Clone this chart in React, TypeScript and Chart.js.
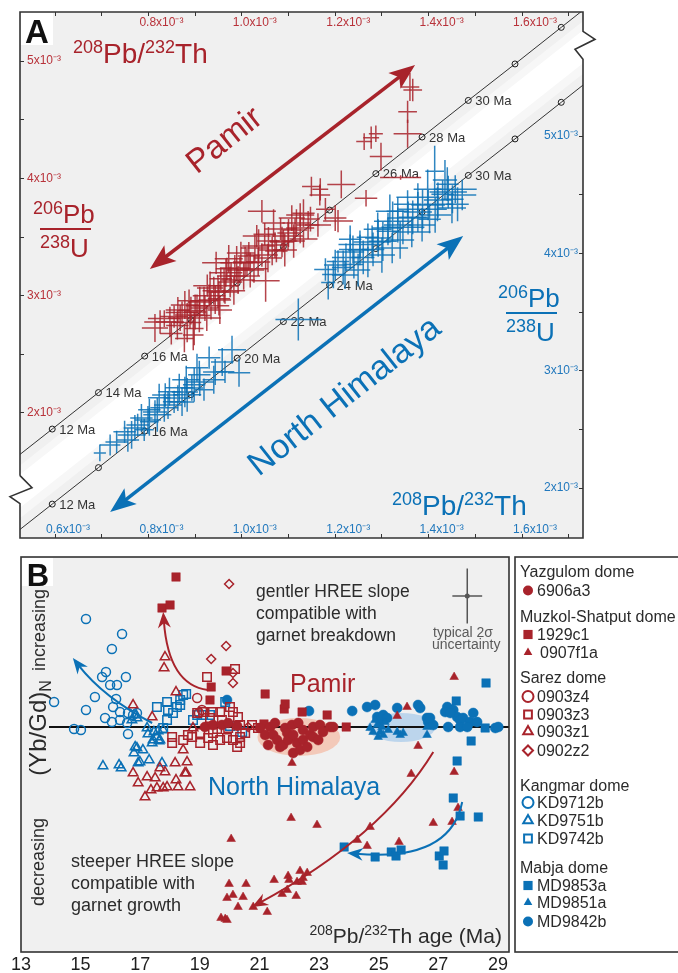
import React, { useEffect, useRef } from 'react';
import { Chart, registerables } from 'chart.js';

Chart.register(...registerables);

const RED = '#a8232b';
const BLUE = '#0b71b6';
const RED_TICK = '#b8323a';
const BLUE_TICK = '#2178bd';
const INK = '#2b2b2b';
const FONT = '"Liberation Sans", Arial, Helvetica, sans-serif';
const EXP = 'x10\u207B\u00B3';

Chart.defaults.font.family = FONT;

// ---------------- Panel A : 206Pb/238U vs 208Pb/232Th (values in 10^-3) ----------------
const concordiaAges = [10, 12, 14, 16, 18, 20, 22, 24, 26, 28, 30, 32, 34, 36];
const concordiaTh = [0.495, 0.594, 0.693, 0.792, 0.891, 0.990, 1.089, 1.188, 1.287, 1.386, 1.485, 1.585, 1.684, 1.783];
const concordiaU = [1.553, 1.863, 2.174, 2.485, 2.796, 3.107, 3.419, 3.730, 4.041, 4.353, 4.665, 4.976, 5.288, 5.600];
const pamirAgeLabels = [12, 14, 16, 26, 28, 30];
const himalayaAgeLabels = [12, 16, 20, 22, 24, 30];
const thTicks = [0.6, 0.7, 0.8, 0.9, 1.0, 1.1, 1.2, 1.3, 1.4, 1.5, 1.6, 1.7];
const uTicks = [2, 2.5, 3, 3.5, 4, 4.5, 5];
const thRange = [0.525, 1.7306];
const pamirURange = [0.934, 5.419];
const himalayaURange = [1.574, 6.058];

// [208Pb/232Th, 206Pb/238U, ±Th, ±U]
const pamirCrosses = [
  [1.360, 4.780, 0.020, 0.119], [1.366, 4.754, 0.020, 0.095], [1.355, 4.568, 0.020, 0.095], [1.355, 4.381, 0.030, 0.119],
  [1.287, 4.381, 0.015, 0.071], [1.277, 4.347, 0.017, 0.095], [1.262, 4.314, 0.017, 0.071], [1.298, 4.186, 0.024, 0.119],
  [1.213, 3.949, 0.030, 0.119], [1.149, 3.932, 0.020, 0.083], [1.168, 3.907, 0.017, 0.095], [1.340, 4.008, 0.044, 0.020],
  [1.266, 3.831, 0.024, 0.071], [1.206, 3.636, 0.032, 0.095], [1.179, 3.737, 0.020, 0.095], [1.043, 3.720, 0.030, 0.095],
  [1.132, 3.703, 0.024, 0.119], [1.147, 3.653, 0.020, 0.106], [1.117, 3.619, 0.030, 0.119], [1.100, 3.534, 0.024, 0.119],
  [1.083, 3.568, 0.035, 0.095], [1.111, 3.466, 0.024, 0.143], [1.089, 3.466, 0.030, 0.095], [1.057, 3.466, 0.024, 0.119],
  [1.132, 3.483, 0.030, 0.071], [1.074, 3.381, 0.024, 0.095], [1.036, 3.424, 0.035, 0.143], [1.015, 3.339, 0.024, 0.119],
  [0.998, 3.364, 0.030, 0.095], [1.011, 3.280, 0.030, 0.119], [0.989, 3.280, 0.035, 0.143], [1.026, 3.229, 0.030, 0.119],
  [1.051, 3.127, 0.030, 0.178], [0.968, 3.229, 0.024, 0.095], [0.977, 3.169, 0.030, 0.119], [0.955, 3.144, 0.024, 0.095],
  [1.004, 3.169, 0.035, 0.119], [0.962, 3.085, 0.030, 0.143], [0.940, 3.042, 0.024, 0.119], [0.930, 3.000, 0.035, 0.095],
  [0.951, 2.975, 0.024, 0.143], [0.919, 2.958, 0.030, 0.119], [0.904, 2.915, 0.024, 0.095], [0.934, 2.915, 0.039, 0.119],
  [0.891, 2.873, 0.030, 0.119], [0.872, 2.856, 0.035, 0.095], [0.909, 2.831, 0.024, 0.143], [0.855, 2.822, 0.030, 0.095],
  [0.834, 2.805, 0.035, 0.071], [0.883, 2.771, 0.030, 0.167], [0.862, 2.746, 0.024, 0.119], [0.898, 2.720, 0.020, 0.143],
  [0.849, 2.678, 0.024, 0.095], [0.877, 2.636, 0.020, 0.119], [0.972, 3.314, 0.030, 0.119], [1.049, 3.525, 0.024, 0.095],
  [1.068, 3.619, 0.024, 0.119], [0.926, 3.085, 0.030, 0.095], [0.983, 3.042, 0.024, 0.119], [1.032, 3.508, 0.030, 0.095],
  [0.966, 3.195, 0.035, 0.119], [0.887, 2.958, 0.024, 0.095], [0.945, 3.280, 0.030, 0.095],
  [0.846, 2.776, 0.030, 0.130], [0.868, 2.810, 0.026, 0.110], [0.889, 2.835, 0.032, 0.120], [0.900, 2.861, 0.024, 0.150],
  [0.921, 2.895, 0.030, 0.110], [0.910, 2.946, 0.026, 0.130], [0.943, 2.963, 0.034, 0.120], [0.949, 3.032, 0.024, 0.140],
  [0.964, 3.032, 0.030, 0.100], [0.975, 3.117, 0.026, 0.130], [0.992, 3.134, 0.036, 0.120], [0.996, 3.219, 0.028, 0.110],
  [1.018, 3.219, 0.030, 0.150], [1.035, 3.287, 0.026, 0.120], [1.043, 3.347, 0.034, 0.100], [1.065, 3.390, 0.028, 0.130],
  [1.071, 3.432, 0.030, 0.110], [1.092, 3.390, 0.026, 0.140], [1.099, 3.509, 0.032, 0.120], [1.114, 3.560, 0.026, 0.100],
  [1.125, 3.577, 0.030, 0.130], [1.107, 3.662, 0.028, 0.110], [1.142, 3.603, 0.024, 0.120], [1.125, 3.688, 0.030, 0.100],
  [1.056, 3.321, 0.030, 0.120], [1.007, 3.287, 0.026, 0.130], [0.985, 3.236, 0.032, 0.110], [0.932, 3.066, 0.028, 0.140],
  [0.878, 2.921, 0.030, 0.120], [0.863, 2.878, 0.026, 0.110], [0.825, 2.776, 0.034, 0.100], [0.814, 2.725, 0.028, 0.120],
  [0.896, 2.665, 0.022, 0.130], [0.925, 2.810, 0.030, 0.110], [0.953, 2.878, 0.026, 0.120], [1.028, 3.407, 0.030, 0.110],
  [1.086, 3.458, 0.026, 0.130], [1.163, 3.603, 0.028, 0.100], [1.200, 3.662, 0.024, 0.110], [1.167, 3.859, 0.022, 0.090],
];

const himalayaCrosses = [
  [1.413, 4.701, 0.020, 0.216], [1.440, 4.590, 0.024, 0.144], [1.457, 4.547, 0.046, 0.119], [1.430, 4.504, 0.024, 0.119],
  [1.398, 4.547, 0.030, 0.168], [1.377, 4.479, 0.046, 0.119], [1.419, 4.419, 0.030, 0.144], [1.451, 4.462, 0.024, 0.119],
  [1.355, 4.419, 0.030, 0.119], [1.387, 4.376, 0.052, 0.168], [1.334, 4.359, 0.024, 0.119], [1.366, 4.308, 0.030, 0.144],
  [1.402, 4.291, 0.024, 0.119], [1.323, 4.274, 0.040, 0.168], [1.345, 4.222, 0.046, 0.144], [1.313, 4.188, 0.024, 0.119],
  [1.291, 4.205, 0.030, 0.144], [1.270, 4.137, 0.024, 0.119], [1.302, 4.103, 0.030, 0.168], [1.253, 4.077, 0.046, 0.119],
  [1.281, 4.034, 0.024, 0.144], [1.238, 4.034, 0.030, 0.119], [1.260, 3.966, 0.024, 0.144], [1.223, 3.966, 0.030, 0.119],
  [1.206, 3.932, 0.024, 0.095], [1.240, 3.906, 0.020, 0.119], [1.217, 3.880, 0.024, 0.144], [1.179, 3.863, 0.024, 0.095],
  [1.185, 3.752, 0.015, 0.144], [1.121, 3.436, 0.049, 0.179], [0.979, 3.179, 0.030, 0.119], [0.930, 3.111, 0.024, 0.095],
  [0.994, 2.983, 0.024, 0.119], [0.964, 2.991, 0.020, 0.095], [0.909, 2.966, 0.024, 0.119], [0.881, 2.923, 0.030, 0.119],
  [0.898, 2.880, 0.024, 0.144], [0.866, 2.855, 0.030, 0.119], [0.919, 2.838, 0.020, 0.095], [0.845, 2.821, 0.024, 0.119],
  [0.883, 2.795, 0.030, 0.144], [0.823, 2.769, 0.024, 0.119], [0.855, 2.735, 0.024, 0.095], [0.834, 2.684, 0.030, 0.119],
  [0.802, 2.667, 0.024, 0.095], [0.819, 2.624, 0.030, 0.144], [0.785, 2.598, 0.024, 0.119], [0.802, 2.564, 0.020, 0.119],
  [0.777, 2.538, 0.024, 0.095], [0.791, 2.496, 0.020, 0.095], [0.749, 2.479, 0.024, 0.095], [0.732, 2.393, 0.024, 0.095],
  [0.696, 2.299, 0.013, 0.071], [0.764, 2.453, 0.030, 0.119], [0.940, 2.923, 0.024, 0.119], [0.904, 3.026, 0.024, 0.119],
  [1.462, 4.419, 0.024, 0.144], [1.232, 4.120, 0.024, 0.119], [1.196, 3.821, 0.024, 0.119], [1.317, 4.359, 0.030, 0.144],
  [1.232, 4.012, 0.030, 0.150], [1.253, 4.029, 0.026, 0.130], [1.279, 4.097, 0.040, 0.140], [1.292, 4.131, 0.028, 0.160],
  [1.313, 4.217, 0.034, 0.130], [1.334, 4.242, 0.030, 0.150], [1.356, 4.302, 0.044, 0.140], [1.377, 4.353, 0.030, 0.170],
  [1.399, 4.413, 0.036, 0.130], [1.420, 4.455, 0.030, 0.150], [1.442, 4.523, 0.040, 0.140], [1.450, 4.387, 0.030, 0.130],
  [1.414, 4.327, 0.034, 0.150], [1.386, 4.242, 0.028, 0.140], [1.364, 4.182, 0.040, 0.130], [1.339, 4.114, 0.030, 0.160],
  [1.322, 4.046, 0.034, 0.130], [1.300, 3.986, 0.028, 0.150], [1.270, 3.927, 0.030, 0.130], [1.249, 3.858, 0.026, 0.140],
  [1.221, 3.816, 0.028, 0.120], [1.200, 3.901, 0.024, 0.130], [1.435, 4.626, 0.026, 0.170], [1.472, 4.498, 0.030, 0.130],
  [0.771, 2.512, 0.024, 0.110], [0.799, 2.580, 0.028, 0.120], [0.814, 2.648, 0.026, 0.100], [0.842, 2.708, 0.030, 0.120],
  [0.863, 2.767, 0.026, 0.110], [0.878, 2.818, 0.028, 0.130], [0.893, 2.853, 0.024, 0.110], [0.910, 2.904, 0.030, 0.120],
  [0.943, 2.989, 0.026, 0.110], [0.958, 3.074, 0.024, 0.120], [0.836, 2.793, 0.028, 0.100], [0.872, 2.733, 0.026, 0.120],
  [0.756, 2.409, 0.024, 0.100], [0.718, 2.367, 0.022, 0.090],
];

// annotation anchors (data units)
const pamirArrow = [[0.803, 3.228], [1.371, 4.967]];
const himalayaArrow = [[0.718, 1.795], [1.474, 4.148]];
const pamirLabelAt = [0.964, 4.319];
const himalayaLabelAt = [1.221, 2.776];

// ---------------- Panel B : (Yb/Gd)N change vs 208Pb/232Th age ----------------
const ageTicks = [13, 15, 17, 19, 21, 23, 25, 27, 29];
const ageRange = [13, 29.37];
const ybgdRange = [-2.25, 1.70];
const zeroLine = [[13.94, 0], [29.37, 0]];

const yazgulom6906a3 = [
  [19.17, 0.00], [19.44, 0.02], [19.74, 0.02], [19.95, 0.04], [20.25, 0.01],
  [21.02, -0.01], [21.19, -0.08], [21.29, -0.18], [21.36, 0.00], [21.46, -0.08], [21.52, 0.04], [21.59, -0.13],
  [21.69, -0.20], [21.79, -0.18], [21.86, -0.01], [21.93, -0.06], [21.96, -0.13], [22.09, 0.02], [22.13, -0.08],
  [22.13, -0.26], [22.26, -0.16], [22.30, 0.04], [22.36, -0.23], [22.46, -0.03], [22.46, -0.13], [22.60, -0.20],
  [22.70, -0.08], [22.80, 0.00], [22.80, -0.10], [22.97, -0.13], [23.03, 0.02], [23.13, -0.05], [23.37, 0.00], [23.47, 0.00],
];
const muzkol1929c1 = [
  [17.73, 1.19], [18.00, 1.22], [18.20, 1.50], [19.34, 0.27], [19.38, 0.40], [19.88, 0.56], [21.15, 0.03],
  [21.19, 0.33], [21.83, 0.18], [21.86, 0.23], [22.43, 0.15], [23.27, 0.12], [23.91, 0.00],
];
const muzkol0907f1a = [
  [27.53, 0.50], [25.95, 0.20], [25.62, 0.11], [26.32, -0.19], [22.09, -0.36], [26.09, -0.47], [27.53, -0.45],
  [22.06, -0.91], [22.93, -0.98], [24.71, -1.00], [24.28, -1.13], [24.61, -1.19], [25.68, -1.15], [26.83, -0.96],
  [27.46, -0.95], [27.66, -0.81], [21.49, -1.53], [21.96, -1.49], [21.99, -1.53], [22.36, -1.44], [22.60, -1.46],
  [22.26, -1.55], [22.43, -1.55], [22.46, -1.51], [21.93, -1.63], [21.76, -1.67], [22.23, -1.69], [21.26, -1.85],
  [20.05, -1.12], [19.98, -1.57], [20.55, -1.57], [20.11, -1.68], [20.45, -1.70], [19.91, -1.71], [20.28, -1.80],
  [20.79, -1.80], [19.71, -1.91], [19.91, -1.93], [19.85, -1.92],
];
const sarez0903z4 = [[18.91, 0.29], [19.07, 0.17], [18.97, 0.14]];
const sarez0903z3 = [
  [19.24, 0.50], [20.18, 0.58], [18.91, 0.14], [19.11, 0.15], [19.68, 0.15], [19.34, 0.09], [19.74, 0.07],
  [20.11, 0.15], [20.28, 0.10], [19.01, -0.06], [18.07, -0.10], [18.07, -0.16], [18.44, -0.13], [18.74, -0.10],
  [19.01, -0.16], [19.28, -0.11], [19.44, -0.18], [19.68, -0.13], [19.91, -0.11], [20.11, -0.13], [20.35, -0.16],
  [20.25, -0.20], [20.35, -0.10], [19.95, -0.01], [20.35, 0.02], [19.44, -0.06], [20.01, 0.20], [20.75, 0.02],
  [20.95, -0.01], [19.44, 0.15], [18.60, -0.08], [19.58, -0.02], [20.52, -0.06],
];
const sarez0903z1 = [
  [17.83, 0.70], [17.80, 0.59], [18.20, 0.35], [16.76, 0.22], [17.40, 0.10], [18.77, -0.01], [16.76, -0.46],
  [16.93, -0.56], [17.23, -0.50], [17.50, -0.51], [17.66, -0.41], [17.83, -0.45], [18.17, -0.36], [17.90, -0.60],
  [18.20, -0.53], [18.27, -0.60], [18.50, -0.46], [18.57, -0.35], [18.67, -0.60], [17.16, -0.70], [17.56, -0.61],
  [17.77, -0.61], [17.36, -0.63], [18.44, -0.23], [18.54, -0.46],
];
const sarez0902z2 = [[19.98, 1.43], [19.88, 0.81], [19.38, 0.68], [20.11, 0.54], [20.11, 0.44], [20.62, 0.00]];
const kangmarKD9712b = [
  [15.18, 1.08], [16.39, 0.93], [16.05, 0.78], [15.85, 0.55], [15.72, 0.50], [16.52, 0.50], [15.99, 0.42],
  [16.22, 0.42], [15.48, 0.30], [16.19, 0.28], [16.09, 0.20], [14.11, 0.25], [15.18, 0.17], [16.32, 0.15],
  [16.59, 0.14], [16.76, 0.12], [16.89, 0.14], [15.82, 0.09], [16.05, 0.05], [16.56, 0.04], [14.78, -0.02],
  [15.01, -0.03], [16.59, -0.07], [16.32, 0.07],
];
const kangmarKD9751b = [
  [16.86, 0.12], [17.23, -0.01], [17.46, -0.05], [17.56, -0.10], [17.63, -0.14], [17.40, -0.16], [16.83, -0.20],
  [17.77, -0.03], [17.26, -0.07], [17.60, -0.04], [17.43, -0.13], [17.66, -0.13], [16.89, -0.21], [16.79, -0.26],
  [17.09, -0.23], [17.30, -0.33], [16.93, -0.36], [15.75, -0.39], [16.29, -0.38], [16.36, -0.41], [16.99, -0.35],
  [17.73, -0.36], [16.72, 0.07], [16.89, 0.09],
];
const kangmarKD9742b = [
  [17.56, 0.20], [17.90, 0.25], [17.93, 0.17], [18.23, 0.20], [18.34, 0.27], [18.44, 0.32], [18.54, 0.33],
  [18.34, 0.22], [17.90, 0.07], [17.77, -0.01], [18.77, 0.07], [18.91, 0.12], [19.11, 0.12], [19.34, 0.12],
  [20.01, 0.01], [20.42, -0.05], [19.85, 0.25], [18.10, 0.14],
];
const mabjaMD9853a = [
  [28.60, 0.44], [27.60, 0.26], [28.57, -0.01], [28.10, -0.14], [27.63, -0.34], [27.50, -0.71], [27.73, -0.89],
  [28.34, -0.90], [23.84, -1.20], [24.88, -1.30], [25.42, -1.25], [25.58, -1.29], [25.75, -1.23], [27.03, -1.29],
  [27.19, -1.24], [27.16, -1.38],
];
const mabjaMD9851a = [
  [24.71, -0.01], [24.81, -0.05], [24.95, 0.02], [24.98, -0.10], [25.05, -0.05], [25.11, 0.00], [25.15, -0.08],
  [25.32, -0.03], [25.62, -0.05], [25.72, -0.08], [25.82, -0.06], [26.62, -0.08], [26.62, 0.00], [24.88, 0.07], [25.21, 0.05],
];
const mabjaMD9842b = [
  [19.91, 0.27], [22.66, 0.16], [24.11, 0.16], [24.61, 0.20], [24.88, 0.22], [25.62, 0.19], [26.32, 0.22],
  [26.39, 0.19], [24.95, 0.10], [25.05, 0.07], [25.15, 0.12], [25.28, 0.09], [26.62, 0.09], [26.66, 0.05],
  [27.30, 0.20], [27.50, 0.17], [27.23, 0.15], [27.63, 0.10], [27.73, 0.07], [27.83, 0.09], [28.17, 0.14],
  [28.07, 0.05], [28.30, 0.05], [27.33, 0.00], [27.73, 0.00], [27.97, 0.00], [28.91, -0.01], [29.01, 0.00],
  [26.83, 0.02], [27.40, 0.14], [26.72, 0.09],
];

// annotations in data units [age, value]
const pamirEllipse = { c: [22.32, -0.10], r: [1.39, 0.19] };
const himalayaEllipse = { c: [25.75, -0.005], r: [1.14, 0.145] };
const arrowKangmar = [[17.40, 0.04], [15.77, 0.295], [14.74, 0.69]];
const arrowMuzkolUp = [[19.27, 0.37], [17.95, 0.42], [17.77, 1.15]];
const arrowMuzkolDown = [[26.83, -0.25], [25.10, -1.095], [20.75, -1.80]];
const arrowMabja = [[27.80, -0.75], [27.40, -1.35], [23.94, -1.26]];
const uncertainty = { c: [27.97, 1.31], e: [0.5, 0.275] };

const series = [
  { name: '6906a3', dome: 'Yazgulom dome', data: yazgulom6906a3, style: 'circle', color: RED, filled: true, r: 5 },
  { name: '1929c1', dome: 'Muzkol-Shatput dome', data: muzkol1929c1, style: 'rect', color: RED, filled: true, r: 6 },
  { name: '0907f1a', dome: 'Muzkol-Shatput dome', data: muzkol0907f1a, style: 'triangle', color: RED, filled: true, r: 5 },
  { name: '0903z4', dome: 'Sarez dome', data: sarez0903z4, style: 'circle', color: RED, filled: false, r: 4.5 },
  { name: '0903z3', dome: 'Sarez dome', data: sarez0903z3, style: 'rect', color: RED, filled: false, r: 6 },
  { name: '0903z1', dome: 'Sarez dome', data: sarez0903z1, style: 'triangle', color: RED, filled: false, r: 5.5 },
  { name: '0902z2', dome: 'Sarez dome', data: sarez0902z2, style: 'rectRot', color: RED, filled: false, r: 4.5 },
  { name: 'KD9712b', dome: 'Kangmar dome', data: kangmarKD9712b, style: 'circle', color: BLUE, filled: false, r: 4.5 },
  { name: 'KD9751b', dome: 'Kangmar dome', data: kangmarKD9751b, style: 'triangle', color: BLUE, filled: false, r: 5.5 },
  { name: 'KD9742b', dome: 'Kangmar dome', data: kangmarKD9742b, style: 'rect', color: BLUE, filled: false, r: 6 },
  { name: 'MD9853a', dome: 'Mabja dome', data: mabjaMD9853a, style: 'rect', color: BLUE, filled: true, r: 6 },
  { name: 'MD9851a', dome: 'Mabja dome', data: mabjaMD9851a, style: 'triangle', color: BLUE, filled: true, r: 5 },
  { name: 'MD9842b', dome: 'Mabja dome', data: mabjaMD9842b, style: 'circle', color: BLUE, filled: true, r: 5 },
];
const legendHeaderY = [32, 77, 138, 246, 328];
const legendItemY = [51, 95, 113, 157, 175, 192, 211, 263, 281, 299, 346, 363, 382];

// ---------------- helpers ----------------
function richText(ctx: any, parts: any[], x: number, y: number, size: number, small: number, color: string, align = 'left') {
  ctx.save();
  ctx.fillStyle = color;
  ctx.textBaseline = 'alphabetic';
  ctx.textAlign = 'left';
  const widths = parts.map(([t, k]: any) => {
    ctx.font = `${k === 'n' ? size : small}px ${FONT}`;
    return ctx.measureText(t).width;
  });
  const total = widths.reduce((s: number, w: number) => s + w, 0);
  let cx = align === 'left' ? x : align === 'right' ? x - total : x - total / 2;
  parts.forEach(([t, k]: any, i: number) => {
    ctx.font = `${k === 'n' ? size : small}px ${FONT}`;
    const dy = k === 'sup' ? -size * 0.36 : k === 'sub' ? size * 0.22 : 0;
    ctx.fillText(t, cx, y + dy);
    cx += widths[i];
  });
  ctx.restore();
}

function arrowHead(ctx: any, tx: number, ty: number, ux: number, uy: number, len: number, half: number, notch: number, color: string) {
  const px = -uy, py = ux;
  ctx.beginPath();
  ctx.moveTo(tx, ty);
  ctx.lineTo(tx - ux * len + px * half, ty - uy * len + py * half);
  ctx.lineTo(tx - ux * (len - notch), ty - uy * (len - notch));
  ctx.lineTo(tx - ux * len - px * half, ty - uy * len - py * half);
  ctx.closePath();
  ctx.fillStyle = color;
  ctx.fill();
}

function drawMarker(ctx: any, style: string, x: number, y: number, r: number, color: string, filled: boolean, lw: number) {
  ctx.beginPath();
  if (style === 'circle') ctx.arc(x, y, r, 0, Math.PI * 2);
  else if (style === 'rect') { const s = r * Math.SQRT1_2; ctx.rect(x - s, y - s, 2 * s, 2 * s); }
  else if (style === 'rectRot') { ctx.moveTo(x - r, y); ctx.lineTo(x, y - r); ctx.lineTo(x + r, y); ctx.lineTo(x, y + r); ctx.closePath(); }
  else { ctx.moveTo(x, y - r); ctx.lineTo(x + 0.866 * r, y + 0.5 * r); ctx.lineTo(x - 0.866 * r, y + 0.5 * r); ctx.closePath(); }
  if (filled) { ctx.fillStyle = color; ctx.fill(); } else { ctx.strokeStyle = color; ctx.lineWidth = lw; ctx.stroke(); }
}

const thLabel = (v: number, skipFirst: boolean) => {
  const t = Math.round(v * 10);
  if (t % 2 !== 0) return '';
  if (skipFirst && t === 6) return '';
  return (t / 10).toFixed(1) + EXP;
};
const uLabel = (v: number) => (Number.isInteger(v) ? `${v}${EXP}` : '');

// ---------------- Panel A plugin ----------------
const panelAPlugin = {
  id: 'panelA',
  beforeDraw(chart: any) {
    const { ctx, chartArea: ca } = chart;
    const xs = chart.scales.x, yl = chart.scales.yL, yr = chart.scales.yR;
    ctx.save();
    ctx.fillStyle = '#ffffff';
    ctx.fillRect(0, 0, chart.width, chart.height);
    ctx.fillStyle = '#f0f0f0';
    ctx.fillRect(ca.left, ca.top, ca.right - ca.left, ca.bottom - ca.top);
    ctx.beginPath();
    ctx.rect(ca.left, ca.top, ca.right - ca.left, ca.bottom - ca.top);
    ctx.clip();
    const n = concordiaTh.length - 1;
    const xA = xs.getPixelForValue(concordiaTh[0]), xB = xs.getPixelForValue(concordiaTh[n]);
    const rA = yl.getPixelForValue(concordiaU[0]), rB = yl.getPixelForValue(concordiaU[n]);
    const bA = yr.getPixelForValue(concordiaU[0]), bB = yr.getPixelForValue(concordiaU[n]);
    const strip = (f1: number, f2: number, col: string) => {
      ctx.fillStyle = col;
      ctx.beginPath();
      ctx.moveTo(xA, rA + f1 * (bA - rA));
      ctx.lineTo(xB, rB + f1 * (bB - rB));
      ctx.lineTo(xB, rB + f2 * (bB - rB));
      ctx.lineTo(xA, rA + f2 * (bA - rA));
      ctx.closePath();
      ctx.fill();
    };
    strip(0.15, 0.85, '#f7f7f7');
    strip(0.27, 0.71, '#ffffff');
    ctx.restore();
  },
  beforeDatasetsDraw(chart: any) {
    const { ctx } = chart;
    const xs = chart.scales.x, yl = chart.scales.yL, yr = chart.scales.yR;
    ctx.save();
    ctx.font = `13px ${FONT}`;
    ctx.fillStyle = '#333';
    ctx.textBaseline = 'middle';
    ctx.textAlign = 'left';
    const put = (ages: number[], ys: any) => ages.forEach((a) => {
      const i = concordiaAges.indexOf(a);
      ctx.fillText(`${a} Ma`, xs.getPixelForValue(concordiaTh[i]) + 7, ys.getPixelForValue(concordiaU[i]) + 1);
    });
    put(pamirAgeLabels, yl);
    put(himalayaAgeLabels, yr);
    ctx.restore();
  },
  afterDatasetsDraw(chart: any) {
    const { ctx, chartArea: ca } = chart;
    const xs = chart.scales.x, yl = chart.scales.yL, yr = chart.scales.yR;
    // error crosses
    ctx.save();
    ctx.beginPath();
    ctx.rect(ca.left, ca.top, ca.right - ca.left, ca.bottom - ca.top);
    ctx.clip();
    chart.data.datasets.forEach((ds: any) => {
      if (!ds.crosses) return;
      const ys = chart.scales[ds.yAxisID];
      ctx.strokeStyle = ds.crossColor;
      ctx.lineWidth = 1.5;
      ds.crosses.forEach(([x, y, ex, ey]: number[]) => {
        const px = xs.getPixelForValue(x), py = ys.getPixelForValue(y);
        ctx.beginPath();
        ctx.moveTo(xs.getPixelForValue(x - ex), py);
        ctx.lineTo(xs.getPixelForValue(x + ex), py);
        ctx.moveTo(px, ys.getPixelForValue(y - ey));
        ctx.lineTo(px, ys.getPixelForValue(y + ey));
        ctx.stroke();
      });
    });
    ctx.restore();

    // double arrows
    const dbl = (pts: number[][], ys: any, color: string) => {
      const P = { x: xs.getPixelForValue(pts[0][0]), y: ys.getPixelForValue(pts[0][1]) };
      const Q = { x: xs.getPixelForValue(pts[1][0]), y: ys.getPixelForValue(pts[1][1]) };
      const L = Math.hypot(Q.x - P.x, Q.y - P.y);
      const ux = (Q.x - P.x) / L, uy = (Q.y - P.y) / L;
      ctx.save();
      ctx.strokeStyle = color;
      ctx.lineWidth = 3.5;
      ctx.beginPath();
      ctx.moveTo(P.x + ux * 18, P.y + uy * 18);
      ctx.lineTo(Q.x - ux * 18, Q.y - uy * 18);
      ctx.stroke();
      arrowHead(ctx, Q.x, Q.y, ux, uy, 26, 10, 6, color);
      arrowHead(ctx, P.x, P.y, -ux, -uy, 26, 10, 6, color);
      ctx.restore();
    };
    dbl(pamirArrow, yl, RED);
    dbl(himalayaArrow, yr, BLUE);

    // rotated labels
    const i0 = 1, i1 = concordiaTh.length - 2;
    const ang = Math.atan2(
      yl.getPixelForValue(concordiaU[i1]) - yl.getPixelForValue(concordiaU[i0]),
      xs.getPixelForValue(concordiaTh[i1]) - xs.getPixelForValue(concordiaTh[i0]),
    );
    const rot = (text: string, at: number[], ys: any, size: number, color: string) => {
      ctx.save();
      ctx.translate(xs.getPixelForValue(at[0]), ys.getPixelForValue(at[1]));
      ctx.rotate(ang);
      ctx.font = `${size}px ${FONT}`;
      ctx.fillStyle = color;
      ctx.textAlign = 'center';
      ctx.textBaseline = 'middle';
      ctx.fillText(text, 0, 0);
      ctx.restore();
    };
    rot('Pamir', pamirLabelAt, yl, 33, RED);
    rot('North Himalaya', himalayaLabelAt, yr, 34, BLUE);

    // axis titles
    richText(ctx, [['208', 'sup'], ['Pb/', 'n'], ['232', 'sup'], ['Th', 'n']], 73, 63, 28, 18, RED);
    richText(ctx, [['206', 'sup'], ['Pb', 'n']], 33, 223, 26, 18, RED);
    richText(ctx, [['238', 'sup'], ['U', 'n']], 40, 257, 26, 18, RED);
    richText(ctx, [['206', 'sup'], ['Pb', 'n']], 498, 307, 26, 18, BLUE);
    richText(ctx, [['238', 'sup'], ['U', 'n']], 506, 341, 26, 18, BLUE);
    richText(ctx, [['208', 'sup'], ['Pb/', 'n'], ['232', 'sup'], ['Th', 'n']], 392, 515, 28, 18, BLUE);
    ctx.save();
    ctx.lineWidth = 2;
    ctx.strokeStyle = RED;
    ctx.beginPath(); ctx.moveTo(40, 229); ctx.lineTo(91, 229); ctx.stroke();
    ctx.strokeStyle = BLUE;
    ctx.beginPath(); ctx.moveTo(506, 313); ctx.lineTo(557, 313); ctx.stroke();
    ctx.restore();

    // frame with axis breaks
    const n = concordiaTh.length - 1;
    const xA = xs.getPixelForValue(concordiaTh[0]), xB = xs.getPixelForValue(concordiaTh[n]);
    const rA = yl.getPixelForValue(concordiaU[0]), rB = yl.getPixelForValue(concordiaU[n]);
    const bA = yr.getPixelForValue(concordiaU[0]), bB = yr.getPixelForValue(concordiaU[n]);
    const yAt = (x: number, f: number) => {
      const t = (x - xA) / (xB - xA);
      const r = rA + t * (rB - rA), b = bA + t * (bB - bA);
      return r + f * (b - r);
    };
    const L = ca.left, R = ca.right, T = ca.top, B = ca.bottom;
    const cl = yAt(L, 0.47), cr = yAt(R, 0.47);
    ctx.save();
    ctx.strokeStyle = '#333';
    ctx.lineWidth = 1.6;
    ctx.lineJoin = 'miter';
    ctx.beginPath();
    ctx.moveTo(L, cl - 14);
    ctx.lineTo(L, T); ctx.lineTo(R, T); ctx.lineTo(R, cr - 14);
    ctx.lineTo(R + 12, cr - 6); ctx.lineTo(R - 8, cr + 4); ctx.lineTo(R, cr + 14);
    ctx.lineTo(R, B); ctx.lineTo(L, B); ctx.lineTo(L, cl + 14);
    ctx.lineTo(L - 10, cl + 7); ctx.lineTo(L + 12, cl - 2); ctx.lineTo(L, cl - 14);
    ctx.stroke();
    // panel letter
    ctx.fillStyle = '#ffffff';
    ctx.fillRect(L + 1, T + 1, 32, 32);
    ctx.fillStyle = '#111';
    ctx.font = `bold 33px ${FONT}`;
    ctx.textAlign = 'center';
    ctx.textBaseline = 'alphabetic';
    ctx.fillText('A', L + 17, T + 31);
    ctx.restore();
  },
};

// ---------------- Panel B plugin ----------------
const panelBPlugin = {
  id: 'panelB',
  beforeDraw(chart: any) {
    const { ctx, chartArea: ca } = chart;
    ctx.save();
    ctx.fillStyle = '#ffffff';
    ctx.fillRect(0, 0, chart.width, chart.height);
    ctx.fillStyle = '#f0f0f0';
    ctx.fillRect(ca.left, ca.top, ca.right - ca.left, ca.bottom - ca.top);
    ctx.restore();
  },
  beforeDatasetsDraw(chart: any) {
    const { ctx } = chart;
    const xs = chart.scales.x, ys = chart.scales.y;
    const ell = (e: any, color: string) => {
      const cx = xs.getPixelForValue(e.c[0]), cy = ys.getPixelForValue(e.c[1]);
      const rx = xs.getPixelForValue(e.c[0] + e.r[0]) - cx;
      const ry = cy - ys.getPixelForValue(e.c[1] + e.r[1]);
      ctx.beginPath();
      ctx.ellipse(cx, cy, rx, ry, 0, 0, Math.PI * 2);
      ctx.fillStyle = color;
      ctx.fill();
    };
    ctx.save();
    ell(pamirEllipse, '#f3c9b9');
    ell(himalayaEllipse, '#bcd5ec');
    ctx.restore();
  },
  afterDatasetsDraw(chart: any) {
    const { ctx, chartArea: ca } = chart;
    const xs = chart.scales.x, ys = chart.scales.y;
    const px = (p: number[]) => ({ x: xs.getPixelForValue(p[0]), y: ys.getPixelForValue(p[1]) });

    // curved arrows
    const curve = (pts: number[][], color: string) => {
      const P0 = px(pts[0]), C = px(pts[1]), P2 = px(pts[2]);
      const L = Math.hypot(P2.x - C.x, P2.y - C.y);
      const ux = (P2.x - C.x) / L, uy = (P2.y - C.y) / L;
      ctx.save();
      ctx.strokeStyle = color;
      ctx.lineWidth = 2;
      ctx.beginPath();
      ctx.moveTo(P0.x, P0.y);
      ctx.quadraticCurveTo(C.x, C.y, P2.x - ux * 9, P2.y - uy * 9);
      ctx.stroke();
      arrowHead(ctx, P2.x, P2.y, ux, uy, 16, 6.5, 5, color);
      ctx.restore();
    };
    curve(arrowKangmar, BLUE);
    curve(arrowMuzkolUp, RED);
    curve(arrowMuzkolDown, RED);
    curve(arrowMabja, BLUE);

    // typical uncertainty
    const c = px(uncertainty.c);
    const ex = xs.getPixelForValue(uncertainty.c[0] + uncertainty.e[0]) - c.x;
    const ey = c.y - ys.getPixelForValue(uncertainty.c[1] + uncertainty.e[1]);
    ctx.save();
    ctx.strokeStyle = '#555';
    ctx.lineWidth = 1.5;
    ctx.beginPath();
    ctx.moveTo(c.x - ex, c.y); ctx.lineTo(c.x + ex, c.y);
    ctx.moveTo(c.x, c.y - ey); ctx.lineTo(c.x, c.y + ey);
    ctx.stroke();
    ctx.fillStyle = '#555';
    ctx.beginPath(); ctx.arc(c.x, c.y, 2.5, 0, Math.PI * 2); ctx.fill();
    ctx.restore();

    // texts
    const text = (t: string, x: number, y: number, size: number, color: string) => {
      ctx.save();
      ctx.font = `${size}px ${FONT}`;
      ctx.fillStyle = color;
      ctx.textAlign = 'left';
      ctx.textBaseline = 'alphabetic';
      ctx.fillText(t, x, y);
      ctx.restore();
    };
    text('gentler HREE slope', 256, 52, 17.5, INK);
    text('compatible with', 256, 74, 17.5, INK);
    text('garnet breakdown', 256, 96, 17.5, INK);
    text('typical 2\u03C3', 433, 92, 14, '#5a5a5a');
    text('uncertainty', 432, 104, 14, '#5a5a5a');
    text('Pamir', 290, 147, 25, RED);
    text('North Himalaya', 208, 250, 25, BLUE);
    text('steeper HREE slope', 71, 322, 18, INK);
    text('compatible with', 71, 344, 18, INK);
    text('garnet growth', 71, 366, 18, INK);
    richText(ctx, [['208', 'sup'], ['Pb/', 'n'], ['232', 'sup'], ['Th age (Ma)', 'n']], 502, 398, 21, 14, INK, 'right');

    // frame and panel letter
    ctx.save();
    ctx.strokeStyle = '#333';
    ctx.lineWidth = 1.6;
    ctx.strokeRect(ca.left, ca.top, ca.right - ca.left, ca.bottom - ca.top);
    ctx.fillStyle = '#ffffff';
    ctx.fillRect(ca.left + 1, ca.top + 1, 31, 28);
    ctx.fillStyle = '#111';
    ctx.font = `bold 31px ${FONT}`;
    ctx.textAlign = 'center';
    ctx.textBaseline = 'alphabetic';
    ctx.fillText('B', ca.left + 17, ca.top + 29);
    ctx.restore();

    // y-axis titles (rotated)
    const vtext = (parts: any[], x: number, y: number, size: number, small: number) => {
      ctx.save();
      ctx.translate(x, y);
      ctx.rotate(-Math.PI / 2);
      richText(ctx, parts, 0, 0, size, small, INK, 'center');
      ctx.restore();
    };
    vtext([['(Yb/Gd)', 'n'], ['N', 'sub']], 46, 183, 24, 16);
    vtext([['increasing', 'n']], 45, 85, 18, 18);
    vtext([['decreasing', 'n']], 44, 317, 18, 18);

    // legend
    ctx.save();
    ctx.strokeStyle = '#333';
    ctx.lineWidth = 1.6;
    ctx.strokeRect(515, ca.top, 200, ca.bottom - ca.top);
    let g = -1, lastDome = '';
    series.forEach((s, i) => {
      if (s.dome !== lastDome) {
        g += 1;
        lastDome = s.dome;
        text(s.dome, 520, legendHeaderY[g], 16, INK);
      }
      const y = legendItemY[i];
      drawMarker(ctx, s.style, 528, y - 5.5, s.filled ? (s.style === 'rect' ? 6.5 : 5) : (s.style === 'rectRot' ? 5 : 5.5), s.color, s.filled, 2);
      text(s.name, s.name === '0907f1a' ? 540 : 537, y, 16, INK);
    });
    ctx.restore();
  },
};

function makeA(canvas: HTMLCanvasElement) {
  const tickGrid = { drawOnChartArea: false, drawTicks: true, tickLength: -4, color: '#333', lineWidth: 1 };
  const fitX = (h: number) => (s: any) => { s.height = h; s.paddingLeft = 0; s.paddingRight = 0; };
  const fitY = (w: number) => (s: any) => { s.width = w; s.paddingTop = 0; s.paddingBottom = 0; };
  return new Chart(canvas, {
    type: 'scatter',
    data: {
      datasets: [
        {
          label: 'Concordia (Pamir)', data: concordiaTh.map((x, i) => ({ x, y: concordiaU[i] })),
          xAxisID: 'x', yAxisID: 'yL', showLine: true, borderColor: '#1e1e1e', borderWidth: 0.9,
          pointRadius: concordiaAges.map((a) => (a >= 12 && a <= 34 ? 3 : 0)),
          pointBorderColor: '#1e1e1e', pointBackgroundColor: 'rgba(0,0,0,0)', pointBorderWidth: 1,
        },
        {
          label: 'Concordia (North Himalaya)', data: concordiaTh.map((x, i) => ({ x, y: concordiaU[i] })),
          xAxisID: 'x', yAxisID: 'yR', showLine: true, borderColor: '#1e1e1e', borderWidth: 0.9,
          pointRadius: concordiaAges.map((a) => (a >= 12 && a <= 34 ? 3 : 0)),
          pointBorderColor: '#1e1e1e', pointBackgroundColor: 'rgba(0,0,0,0)', pointBorderWidth: 1,
        },
        {
          label: 'Pamir', data: pamirCrosses.map((r) => ({ x: r[0], y: r[1] })), xAxisID: 'x', yAxisID: 'yL',
          pointRadius: 0, crosses: pamirCrosses, crossColor: 'rgba(168,35,43,0.85)',
        } as any,
        {
          label: 'North Himalaya', data: himalayaCrosses.map((r) => ({ x: r[0], y: r[1] })), xAxisID: 'x', yAxisID: 'yR',
          pointRadius: 0, crosses: himalayaCrosses, crossColor: 'rgba(11,113,182,0.85)',
        } as any,
      ],
    },
    options: {
      responsive: false, animation: false, devicePixelRatio: 1, events: [],
      layout: { padding: 0 },
      plugins: { legend: { display: false }, tooltip: { enabled: false } },
      scales: {
        x: {
          type: 'linear', position: 'bottom', min: thRange[0], max: thRange[1],
          afterBuildTicks: (s: any) => { s.ticks = thTicks.map((v) => ({ value: v })); },
          afterFit: fitX(7),
          border: { display: false }, grid: tickGrid,
          ticks: { autoSkip: false, mirror: true, maxRotation: 0, minRotation: 0, padding: 1, labelOffset: 13, color: BLUE_TICK,
            font: { size: 12, family: FONT }, callback: (v: any) => thLabel(v, false) },
        },
        x2: {
          type: 'linear', position: 'top', min: thRange[0], max: thRange[1],
          afterBuildTicks: (s: any) => { s.ticks = thTicks.map((v) => ({ value: v })); },
          afterFit: fitX(12),
          border: { display: false }, grid: tickGrid,
          ticks: { autoSkip: false, mirror: true, maxRotation: 0, minRotation: 0, padding: 3, labelOffset: 13, color: RED_TICK,
            font: { size: 12, family: FONT }, callback: (v: any) => thLabel(v, true) },
        },
        yL: {
          type: 'linear', position: 'left', min: pamirURange[0], max: pamirURange[1],
          afterBuildTicks: (s: any) => { s.ticks = uTicks.map((v) => ({ value: v })); },
          afterFit: fitY(20),
          border: { display: false }, grid: tickGrid,
          ticks: { autoSkip: false, mirror: true, padding: 7, color: RED_TICK, font: { size: 12, family: FONT }, callback: (v: any) => uLabel(v) },
        },
        yR: {
          type: 'linear', position: 'right', min: himalayaURange[0], max: himalayaURange[1],
          afterBuildTicks: (s: any) => { s.ticks = uTicks.map((v) => ({ value: v })); },
          afterFit: fitY(95),
          border: { display: false }, grid: tickGrid,
          ticks: { autoSkip: false, mirror: true, padding: -5, color: BLUE_TICK, font: { size: 12, family: FONT }, callback: (v: any) => uLabel(v) },
        },
      } as any,
    },
    plugins: [panelAPlugin],
  } as any);
}

function makeB(canvas: HTMLCanvasElement) {
  const datasets: any[] = series.map((s) => ({
    label: s.name,
    data: s.data.map(([x, y]) => ({ x, y })),
    pointStyle: s.style,
    pointRadius: s.r,
    pointBackgroundColor: s.filled ? s.color : 'rgba(0,0,0,0)',
    pointBorderColor: s.color,
    pointBorderWidth: s.filled ? 0.5 : 1.5,
    showLine: false,
  }));
  datasets.push({
    label: 'reference', data: zeroLine.map(([x, y]) => ({ x, y })), showLine: true, pointRadius: 0,
    borderColor: '#111', borderWidth: 2, order: 100,
  });
  return new Chart(canvas, {
    type: 'scatter',
    data: { datasets },
    options: {
      responsive: false, animation: false, devicePixelRatio: 1, events: [],
      layout: { padding: { top: 12, left: 21, right: 169, bottom: 0 } },
      plugins: { legend: { display: false }, tooltip: { enabled: false } },
      scales: {
        x: {
          type: 'linear', min: ageRange[0], max: ageRange[1],
          afterBuildTicks: (s: any) => { s.ticks = ageTicks.map((v) => ({ value: v })); },
          afterFit: (s: any) => { s.height = 21; },
          border: { display: false }, grid: { display: false, drawTicks: false },
          ticks: { autoSkip: false, maxRotation: 0, padding: 2, color: '#1e1e1e', font: { size: 18, family: FONT } },
        },
        y: { type: 'linear', display: false, min: ybgdRange[0], max: ybgdRange[1] },
      } as any,
    },
    plugins: [panelBPlugin],
  } as any);
}

export default function App() {
  const refA = useRef<HTMLCanvasElement>(null);
  const refB = useRef<HTMLCanvasElement>(null);
  useEffect(() => {
    const a = makeA(refA.current as HTMLCanvasElement);
    const b = makeB(refB.current as HTMLCanvasElement);
    return () => { a.destroy(); b.destroy(); };
  }, []);
  return (
    <div style={{ position: 'absolute', left: 0, top: 0, width: 678, height: 973, background: '#fff' }}>
      <canvas ref={refA} width={678} height={545} style={{ position: 'absolute', left: 0, top: 0, width: 678, height: 545 }} />
      <canvas ref={refB} width={678} height={428} style={{ position: 'absolute', left: 0, top: 545, width: 678, height: 428 }} />
    </div>
  );
}
